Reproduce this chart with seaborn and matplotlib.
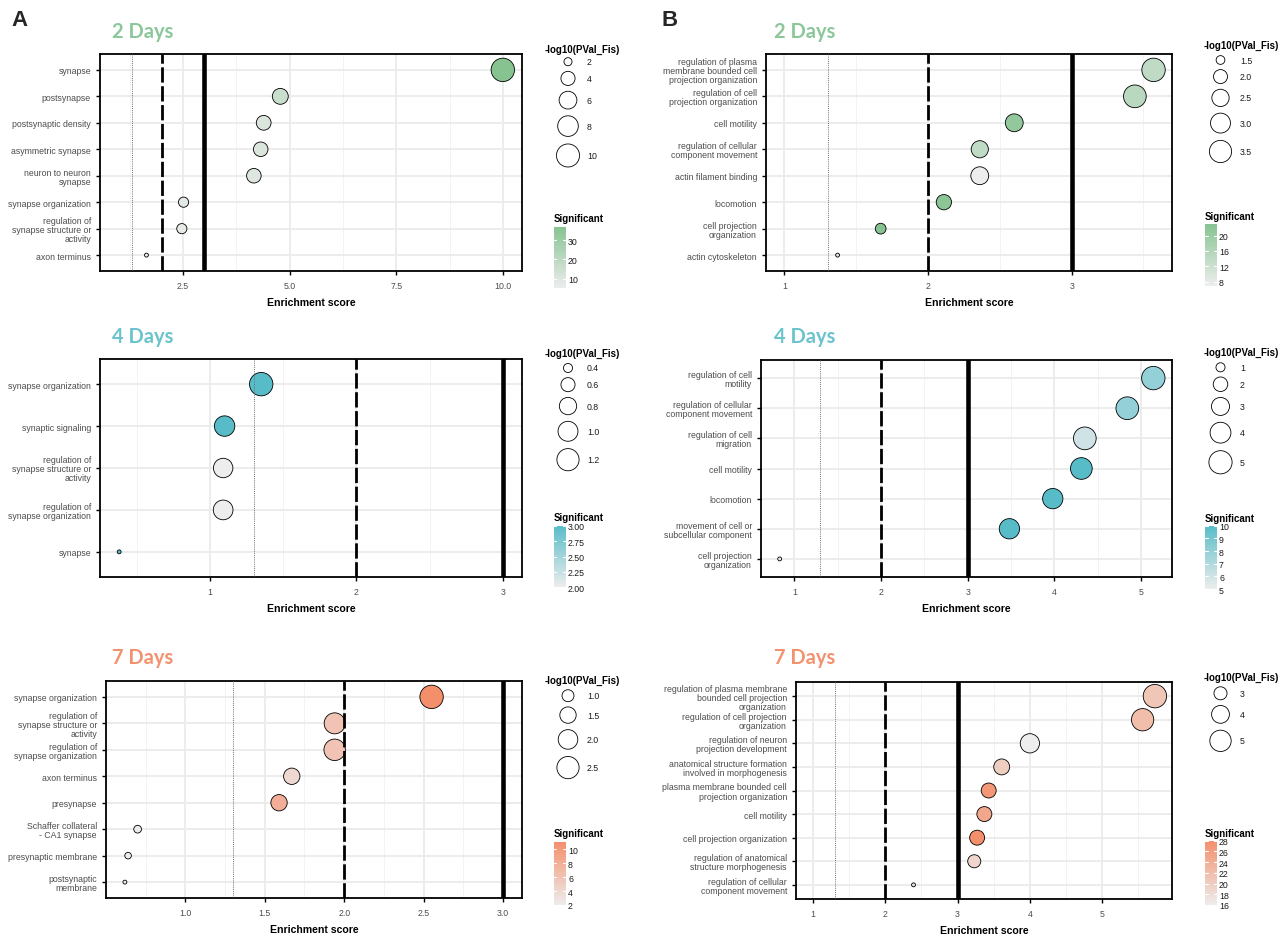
import numpy as np
import pandas as pd
import matplotlib
matplotlib.use("Agg")
import matplotlib.pyplot as plt
import matplotlib.transforms as mtransforms
from matplotlib.colors import LinearSegmentedColormap, Normalize
from matplotlib.cm import ScalarMappable
from matplotlib import font_manager
import seaborn as sns

# ---------------------------------------------------------------- data
# Column A, 2 days
a2_terms = ["synapse", "postsynapse", "postsynaptic density", "asymmetric synapse",
            "neuron to neuron\nsynapse", "synapse organization",
            "regulation of\nsynapse structure or\nactivity", "axon terminus"]
a2_enrich = [10.0, 4.78, 4.39, 4.32, 4.16, 2.51, 2.47, 1.64]
a2_logp = [10.3, 4.9, 4.3, 4.2, 4.2, 2.5, 2.5, 1.6]
a2_sig = [37, 16, 11, 11, 10, 8, 7, 5]
a2_xticks = [2.5, 5.0, 7.5, 10.0]
a2_xticklabels = ["2.5", "5.0", "7.5", "10.0"]
a2_size_breaks = [2, 4, 6, 8, 10]
a2_size_labels = ["2", "4", "6", "8", "10"]
a2_sig_breaks = [10, 20, 30]
a2_sig_labels = ["10", "20", "30"]

# Column A, 4 days
a4_terms = ["synapse organization", "synaptic signaling",
            "regulation of\nsynapse structure or\nactivity",
            "regulation of\nsynapse organization", "synapse"]
a4_enrich = [1.35, 1.10, 1.09, 1.09, 0.38]
a4_logp = [1.32, 1.04, 0.96, 0.98, 0.33]
a4_sig = [3, 3, 2, 2, 3]
a4_xticks = [1, 2, 3]
a4_xticklabels = ["1", "2", "3"]
a4_size_breaks = [0.4, 0.6, 0.8, 1.0, 1.2]
a4_size_labels = ["0.4", "0.6", "0.8", "1.0", "1.2"]
a4_sig_breaks = [2.0, 2.25, 2.5, 2.75, 3.0]
a4_sig_labels = ["2.00", "2.25", "2.50", "2.75", "3.00"]

# Column A, 7 days
a7_terms = ["synapse organization", "regulation of\nsynapse structure or\nactivity",
            "regulation of\nsynapse organization", "axon terminus", "presynapse",
            "Schaffer collateral\n- CA1 synapse", "presynaptic membrane",
            "postsynaptic\nmembrane"]
a7_enrich = [2.55, 1.94, 1.94, 1.67, 1.59, 0.70, 0.64, 0.62]
a7_logp = [2.75, 2.26, 2.35, 1.50, 1.50, 0.72, 0.68, 0.64]
a7_sig = [11, 6, 6, 4, 8, 2, 2, 2]
a7_xticks = [1.0, 1.5, 2.0, 2.5, 3.0]
a7_xticklabels = ["1.0", "1.5", "2.0", "2.5", "3.0"]
a7_size_breaks = [1.0, 1.5, 2.0, 2.5]
a7_size_labels = ["1.0", "1.5", "2.0", "2.5"]
a7_sig_breaks = [2, 4, 6, 8, 10]
a7_sig_labels = ["2", "4", "6", "8", "10"]

# Column B, 2 days
b2_terms = ["regulation of plasma\nmembrane bounded cell\nprojection organization",
            "regulation of cell\nprojection organization", "cell motility",
            "regulation of cellular\ncomponent movement", "actin filament binding",
            "locomotion", "cell projection\norganization", "actin cytoskeleton"]
b2_enrich = [3.57, 3.44, 2.60, 2.36, 2.36, 2.11, 1.67, 1.37]
b2_logp = [3.79, 3.62, 2.60, 2.48, 2.60, 2.18, 1.65, 1.35]
b2_sig = [14, 15, 21, 14, 7, 22, 23, 10]
b2_xticks = [1, 2, 3]
b2_xticklabels = ["1", "2", "3"]
b2_size_breaks = [1.5, 2.0, 2.5, 3.0, 3.5]
b2_size_labels = ["1.5", "2.0", "2.5", "3.0", "3.5"]
b2_sig_breaks = [8, 12, 16, 20]
b2_sig_labels = ["8", "12", "16", "20"]

# Column B, 4 days
b4_terms = ["regulation of cell\nmotility", "regulation of cellular\ncomponent movement",
            "regulation of cell\nmigration", "cell motility", "locomotion",
            "movement of cell or\nsubcellular component", "cell projection\norganization"]
b4_enrich = [5.14, 4.84, 4.35, 4.31, 3.98, 3.48, 0.83]
b4_logp = [5.09, 4.78, 4.78, 4.35, 3.80, 3.80, 0.69]
b4_sig = [8, 8, 6, 10, 10, 10, 5]
b4_xticks = [1, 2, 3, 4, 5]
b4_xticklabels = ["1", "2", "3", "4", "5"]
b4_size_breaks = [1, 2, 3, 4, 5]
b4_size_labels = ["1", "2", "3", "4", "5"]
b4_sig_breaks = [5, 6, 7, 8, 9, 10]
b4_sig_labels = ["5", "6", "7", "8", "9", "10"]

# Column B, 7 days
b7_terms = ["regulation of plasma membrane\nbounded cell projection\norganization",
            "regulation of cell projection\norganization",
            "regulation of neuron\nprojection development",
            "anatomical structure formation\ninvolved in morphogenesis",
            "plasma membrane bounded cell\nprojection organization", "cell motility",
            "cell projection organization",
            "regulation of anatomical\nstructure morphogenesis",
            "regulation of cellular\ncomponent movement"]
b7_enrich = [5.73, 5.56, 4.00, 3.61, 3.43, 3.37, 3.27, 3.23, 2.39]
b7_logp = [5.69, 5.31, 4.38, 3.55, 3.35, 3.35, 3.35, 3.00, 2.24]
b7_sig = [21, 22, 16, 20, 27, 25, 28, 19, 17]
b7_xticks = [1, 2, 3, 4, 5]
b7_xticklabels = ["1", "2", "3", "4", "5"]
b7_size_breaks = [3, 4, 5]
b7_size_labels = ["3", "4", "5"]
b7_sig_breaks = [16, 18, 20, 22, 24, 26, 28]
b7_sig_labels = ["16", "18", "20", "22", "24", "26", "28"]

# reference cut-offs on the enrichment axis: dotted, dashed, solid
cutoffs = [1.3, 2.0, 3.0]

day_titles = ["2 Days", "4 Days", "7 Days"]
panel_letters = ["A", "B"]

# ---------------------------------------------------------------- style
W, H, DPI = 1288, 937, 100
LOW = "#EDEDED"
GREEN, TEAL, SALMON = "#86C391", "#58BCC8", "#F48F6C"
TITLE_COLORS = ["#8BC79A", "#6AC3CD", "#F4916F"]

sns.set_theme(style="white")
names = {f.name for f in font_manager.fontManager.ttflist}
NARROW = "Liberation Sans Narrow" if "Liberation Sans Narrow" in names else "Liberation Sans"
plt.rcParams["font.family"] = [NARROW, "DejaVu Sans"]
TITLE_FONT = ["Lato", "DejaVu Sans"]

SIZE_UNIT = 3.9  # px per ggplot-like size step


def diam_px(v, vmin, vmax):
    n = np.clip((np.asarray(v, float) - vmin) / (vmax - vmin), 0, 1)
    return SIZE_UNIT * (1 + 5 * np.sqrt(n))


def area_pt2(d):
    return (np.asarray(d) * 72.0 / DPI) ** 2


fig = plt.figure(figsize=(W / DPI, H / DPI), dpi=DPI)
fig.patch.set_facecolor("white")

overlay = fig.add_axes([0, 0, 1, 1], zorder=10)
overlay.set_xlim(0, W)
overlay.set_ylim(H, 0)
overlay.axis("off")
overlay.patch.set_alpha(0)


def px_axes(l, t, r, b, **kw):
    return fig.add_axes([l / W, 1 - b / H, (r - l) / W, (b - t) / H], **kw)


panels = [
    dict(terms=a2_terms, enrich=a2_enrich, logp=a2_logp, sig=a2_sig, xt=a2_xticks,
         xtl=a2_xticklabels, sb=a2_size_breaks, sl=a2_size_labels, cb=a2_sig_breaks,
         cbl=a2_sig_labels, color=GREEN, tcol=TITLE_COLORS[0], title=day_titles[0],
         box=(100, 55, 522, 272), ty=32, tx=112,
         leg=(545, 50, 568, 587, 62.7, 219, 553.5, 566, 227.7, 289.3)),
    dict(terms=a4_terms, enrich=a4_enrich, logp=a4_logp, sig=a4_sig, xt=a4_xticks,
         xtl=a4_xticklabels, sb=a4_size_breaks, sl=a4_size_labels, cb=a4_sig_breaks,
         cbl=a4_sig_labels, color=TEAL, tcol=TITLE_COLORS[1], title=day_titles[1],
         box=(100, 360, 522, 578), ty=337, tx=112,
         leg=(545, 354, 568, 587, 369, 518.3, 553.5, 566, 526.7, 588.3)),
    dict(terms=a7_terms, enrich=a7_enrich, logp=a7_logp, sig=a7_sig, xt=a7_xticks,
         xtl=a7_xticklabels, sb=a7_size_breaks, sl=a7_size_labels, cb=a7_sig_breaks,
         cbl=a7_sig_labels, color=SALMON, tcol=TITLE_COLORS[2], title=day_titles[2],
         box=(106, 682, 522, 899), ty=658, tx=112,
         leg=(545, 680.7, 568, 587, 696.7, 834.3, 553.5, 566, 843.3, 906)),
    dict(terms=b2_terms, enrich=b2_enrich, logp=b2_logp, sig=b2_sig, xt=b2_xticks,
         xtl=b2_xticklabels, sb=b2_size_breaks, sl=b2_size_labels, cb=b2_sig_breaks,
         cbl=b2_sig_labels, color=GREEN, tcol=TITLE_COLORS[0], title=day_titles[0],
         box=(766, 55, 1172, 272), ty=32, tx=774,
         leg=(1204, 45.7, 1220.5, 1240, 61, 216.7, 1205, 1217, 225, 286.7)),
    dict(terms=b4_terms, enrich=b4_enrich, logp=b4_logp, sig=b4_sig, xt=b4_xticks,
         xtl=b4_xticklabels, sb=b4_size_breaks, sl=b4_size_labels, cb=b4_sig_breaks,
         cbl=b4_sig_labels, color=TEAL, tcol=TITLE_COLORS[1], title=day_titles[1],
         box=(761, 361, 1172, 578), ty=337, tx=774,
         leg=(1204, 353.3, 1220.5, 1240, 368.3, 519, 1205, 1217, 526.7, 590)),
    dict(terms=b7_terms, enrich=b7_enrich, logp=b7_logp, sig=b7_sig, xt=b7_xticks,
         xtl=b7_xticklabels, sb=b7_size_breaks, sl=b7_size_labels, cb=b7_sig_breaks,
         cbl=b7_sig_labels, color=SALMON, tcol=TITLE_COLORS[2], title=day_titles[2],
         box=(796, 683, 1172, 900), ty=658, tx=774,
         leg=(1204, 678.3, 1220.5, 1240, 694.3, 834.3, 1205, 1217, 841.7, 906)),
]


def draw_panel(p):
    ax = px_axes(*p["box"])
    df = pd.DataFrame({"term": p["terms"], "enrich": p["enrich"],
                       "logp": p["logp"], "sig": p["sig"]})
    df["pos"] = np.arange(len(df))
    lmin, lmax = df["logp"].min(), df["logp"].max()
    df["area"] = area_pt2(diam_px(df["logp"], lmin, lmax))
    smin, smax = df["sig"].min(), df["sig"].max()
    cmap = LinearSegmentedColormap.from_list("sig", [LOW, p["color"]])
    amin, amax = df["area"].min(), df["area"].max()

    sns.scatterplot(data=df, x="enrich", y="pos", hue="sig", palette=cmap,
                    hue_norm=(smin, smax), size="area", sizes=(amin, amax),
                    size_norm=(amin, amax), edgecolor="black", linewidth=0.6,
                    legend=False, ax=ax, zorder=3)

    # cut-off lines
    ax.axvline(cutoffs[0], color="#6E6E6E", lw=0.7, ls=(0, (1, 1.2)), zorder=4)
    ax.axvline(cutoffs[1], color="black", lw=2.0, dashes=(5.5, 1.3), zorder=4)
    ax.axvline(cutoffs[2], color="black", lw=3.3, zorder=4)

    # scale limits: data range padded by 5 %
    lo = min(1.0, df["enrich"].min())
    hi = max(cutoffs[-1], df["enrich"].max())
    pad = 0.05 * (hi - lo)
    ax.set_xlim(lo - pad, hi + pad)
    n = len(df)
    ax.set_ylim(n - 0.4, -0.6)

    xt = p["xt"]
    step = xt[1] - xt[0]
    minors = np.arange(xt[0] - step / 2 - 10 * step, hi + pad, step)
    minors = minors[(minors > lo - pad) & (minors < hi + pad)]
    ax.set_xticks(xt, labels=p["xtl"])
    ax.set_xticks(minors, minor=True)
    ax.set_yticks(df["pos"], labels=df["term"])

    ax.set_axisbelow(True)
    ax.grid(True, which="major", color="#EBEBEB", lw=1.3)
    ax.xaxis.grid(True, which="minor", color="#F3F3F3", lw=0.7)

    for sp in ax.spines.values():
        sp.set_visible(True)
        sp.set_color("black")
        sp.set_linewidth(1.3)

    ax.tick_params(axis="both", which="major", bottom=True, left=True, length=3,
                   width=1.0, color="black", labelsize=6.3, labelcolor="#4D4D4D")
    ax.tick_params(axis="x", which="major", pad=4.5)
    ax.tick_params(axis="y", which="major", pad=3.5)
    ax.tick_params(which="minor", length=0)
    for lab in ax.get_yticklabels():
        lab.set_linespacing(1.0)

    ax.set_ylabel("")
    ax.set_xlabel("Enrichment score", fontsize=7.6, fontweight="bold",
                  color="black", labelpad=5)

    # panel title
    overlay.text(p["tx"], p["ty"], p["title"], fontsize=14.5, fontweight="bold",
                 family=TITLE_FONT, color=p["tcol"], ha="left", va="center")

    # size legend
    tx, ty, cx, lx, c0, sy, bx0, bx1, by0, by1 = p["leg"]
    overlay.text(tx, ty, "-log10(PVal_Fis)", fontsize=7, fontweight="bold",
                 color="black", ha="left", va="center")
    ds = diam_px(p["sb"], lmin, lmax)
    hs = np.maximum(14, 1.3 * ds + 1)
    centers = [c0]
    for i in range(1, len(ds)):
        centers.append(centers[-1] + (hs[i - 1] + hs[i]) / 2)
    overlay.scatter([cx] * len(ds), centers, s=area_pt2(ds), facecolor="white",
                    edgecolor="black", linewidth=0.6)
    for lab, c in zip(p["sl"], centers):
        overlay.text(lx, c, lab, fontsize=6.3, color="#1A1A1A", ha="left", va="center")

    # colour legend
    overlay.text(tx + (bx0 - tx) * 0 + 0.5 if False else bx0, sy, "Significant",
                 fontsize=7, fontweight="bold", color="black", ha="left", va="center")
    cax = px_axes(bx0, by0, bx1, by1)
    sm = ScalarMappable(norm=Normalize(smin, smax), cmap=cmap)
    cbar = fig.colorbar(sm, cax=cax)
    cbar.outline.set_visible(False)
    cbar.set_ticks(p["cb"], labels=p["cbl"])
    cax.tick_params(length=0, labelsize=6.3, labelcolor="#1A1A1A", pad=1.5)
    tr = mtransforms.blended_transform_factory(cax.transAxes, cax.transData)
    for t in p["cb"]:
        cax.plot([0, 0.22], [t, t], color="white", lw=0.8, transform=tr)
        cax.plot([0.78, 1], [t, t], color="white", lw=0.8, transform=tr)


for p in panels:
    draw_panel(p)

# panel letters
overlay.text(11, 20, panel_letters[0], fontsize=16, fontweight="bold",
             family=["Liberation Sans", "DejaVu Sans"], ha="left", va="center")
overlay.text(662, 20, panel_letters[1], fontsize=16, fontweight="bold",
             family=["Liberation Sans", "DejaVu Sans"], ha="left", va="center")

fig.savefig("out.png", dpi=DPI, facecolor="white")
